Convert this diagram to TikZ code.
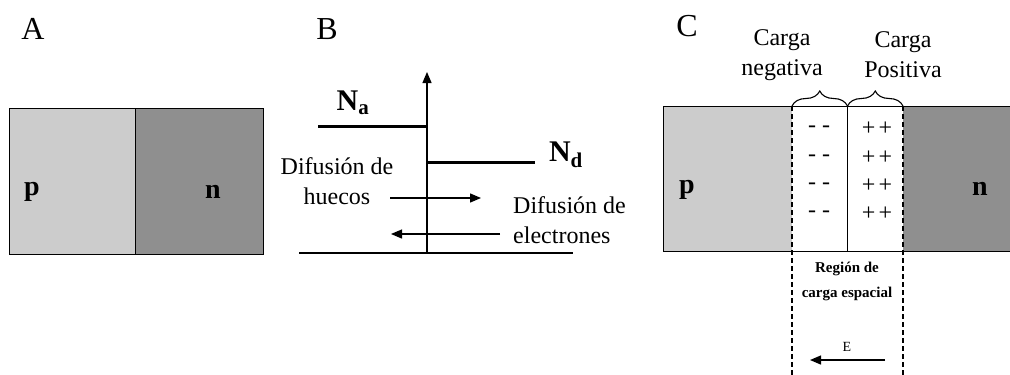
\documentclass[tikz,border=0pt]{standalone}
\usepackage{fontspec}
\setmainfont{Liberation Serif}
\usetikzlibrary{arrows.meta, positioning, decorations.pathreplacing}

\definecolor{pgray}{gray}{0.80}
\definecolor{ngray}{gray}{0.56}

\begin{document}
\begin{tikzpicture}[
  x=1pt, y=-1pt,
  panel/.style={font=\fontsize{32}{32}\selectfont},
  txt/.style={font=\fontsize{24}{30}\selectfont, align=center, inner sep=0},
  dopant/.style={font=\fontsize{28}{28}\bfseries\selectfont, inner sep=0},
  conc/.style={font=\fontsize{30}{30}\bfseries\selectfont, inner sep=0},
  charge/.style={font=\fontsize{24}{24}\selectfont, inner sep=0},
  small/.style={font=\fontsize{15}{25}\bfseries\selectfont, align=center, inner sep=0},
  block/.style={inner sep=0, outer sep=0, anchor=north west},
  dopline/.style={line width=3pt},
  arrow/.style={-{Triangle[length=11pt, width=9pt]}, line width=1.3pt},
  border/.style={line width=1.3pt, dash pattern=on 5pt off 3pt},
  brace/.style={decorate, decoration={brace, amplitude=15pt}, line width=1.1pt}
]
\useasboundingbox (0,0) rectangle (1010,375);

% A: unbiased junction
\node[panel] (labA) at (33,29) {A};
\node[block, fill=pgray, draw, line width=1pt, minimum width=126pt, minimum height=146pt] (pA) at (9,108) {};
\node[block, fill=ngray, draw, line width=1pt, minimum width=128pt, minimum height=146pt] (nA) at (135,108) {};
\node[dopant] (pAlab) at (32,192) {p};
\node[dopant] (nAlab) at (213,192) {n};

% B: doping profile
\node[panel] (labB) at (327,29) {B};
\coordinate (origin) at (427,253);
\coordinate (ytop) at (427,72);
\coordinate (xleft) at (299,253);
\coordinate (xright) at (573,253);
\draw[line width=1.2pt] (xleft) -- (xright);
\draw[arrow] (origin) -- (ytop);
\coordinate (na0) at (318,126);
\coordinate (na1) at (427,126);
\coordinate (nd0) at (428,162);
\coordinate (nd1) at (535,162);
\draw[dopline] (na0) -- (na1);
\draw[dopline] (nd0) -- (nd1);
\node[conc] (Na) at (353,103) {N\textsubscript{a}};
\node[conc] (Nd) at (566,155) {N\textsubscript{d}};
\node[txt] (huecos) at (337,181) {Difusión de\\huecos};
\node[txt, align=left, anchor=west] (electr) at (513,220) {Difusión de\\electrones};
\coordinate (h0) at (390,198);
\coordinate (h1) at (481,198);
\coordinate (e0) at (500,234);
\coordinate (e1) at (391,234);
\draw[arrow] (h0) -- (h1);
\draw[arrow] (e0) -- (e1);

% C: space charge region
\node[panel] (labC) at (687,26) {C};
\node[block, fill=pgray, minimum width=129pt, minimum height=145pt] (pC) at (663,106) {};
\node[block, fill=white, minimum width=111pt, minimum height=145pt] (scr) at (792,106) {};
\node[block, fill=ngray, minimum width=110pt, minimum height=145pt] (nC) at (903,106) {};
\draw[line width=1pt] (pC.north west) -- (nC.north east);
\draw[line width=1pt] (pC.south west) -- (nC.south east);
\draw[line width=1pt] (pC.north west) -- (pC.south west);
\draw[line width=1pt] (scr.north) -- (scr.south);
\coordinate (dl) at (792,375);
\coordinate (dr) at (903,375);
\draw[border] (pC.north east) -- (dl);
\draw[border] (nC.north west) -- (dr);
\draw[brace] (pC.north east) -- (scr.north);
\draw[brace] (scr.north) -- (nC.north west);
\node[txt] (neg) at (782,55) {Carga\\negativa};
\node[txt] (pos) at (903,55) {Carga\\Positiva};
\foreach \y [count=\i] in {129,158,186,214} {
  \node[charge] (neg\i) at (819,\y) {-\hspace{6pt}-};
  \node[charge] (pos\i) at (877,\y) {+\hspace{3pt}+};
}
\node[dopant] (pClab) at (687,190) {p};
\node[dopant] (nClab) at (980,189) {n};
\node[small] (scrlab) at (847,281) {Región de\\carga espacial};
\node[font=\fontsize{14}{14}\selectfont, inner sep=0] (Elab) at (847,347) {E};
\coordinate (E0) at (885,360);
\coordinate (E1) at (810,360);
\draw[arrow] (E0) -- (E1);
\end{tikzpicture}
\end{document}
